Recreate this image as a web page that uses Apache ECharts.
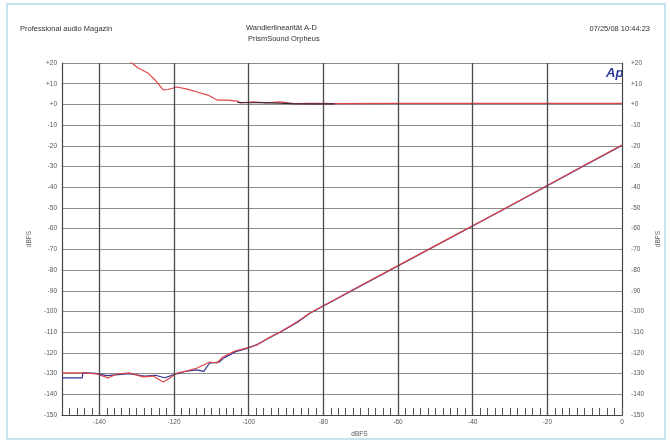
<!DOCTYPE html>
<html>
<head>
<meta charset="utf-8">
<script src="https://cdn.jsdelivr.net/npm/echarts@6/dist/echarts.min.js"></script>
<style>
  html, body { margin: 0; padding: 0; background: #fff; }
  #linChart { width: 670px; height: 443px; }
</style>
</head>
<body>
<div id="linChart"></div>
<script>
// x: Eingangspegel (dBFS), y: dBFS
const xLabelValues = [-140, -120, -100, -80, -60, -40, -20, 0];
const yMin = -150, yMax = 20;

// Ausgangspegel, Kanal A (blau) / Kanal B (rot)
const levelA = [[-150,-132.1],[-144.6,-132.1],[-144.4,-129.5],[-141,-129.9],[-138,-131.0],[-135,-130.5],[-132,-130.0],
  [-128,-131.2],[-125,-130.8],[-122.5,-132.0],[-120,-130.5],[-117,-129.0],[-114,-128.2],[-112,-128.9],[-110.5,-125.0],
  [-108,-124.5],[-106.5,-122.3],[-103.5,-119.4],[-100.4,-117.8],[-97.8,-116.0],[-94.3,-112.6],[-91.6,-110.0],
  [-87,-105.3],[-83.6,-100.9],[-70,-87.7],[-50,-68.4],[-30,-49.1],[-10,-29.5],[0,-19.8]];
const levelB = [[-150,-129.7],[-144.4,-129.7],[-140.6,-130.2],[-137.7,-132.1],[-135.3,-130.2],[-131.8,-129.7],
  [-128.3,-131.6],[-125.6,-131.2],[-122.9,-134.1],[-121.1,-132.1],[-119.2,-129.7],[-116.5,-128.7],[-113.8,-127.3],
  [-110.4,-124.4],[-108.5,-124.9],[-106.9,-122.0],[-103.7,-119.1],[-100.4,-117.6],[-97.8,-116.2],[-94.3,-112.3],
  [-91.6,-109.9],[-87.1,-105.1],[-83.6,-100.7],[-70,-87.5],[-50,-68.2],[-30,-48.9],[-10,-29.3],[0,-19.6]];

// Abweichung, Kanal A / Kanal B
const devA = [[-103,1.0],[-100,0.8],[-96,0.9],[-92,0.6],[-88,0.4],[-83,0.3],[-77,0.3]];
const devB = [[-133.5,23],[-131.3,20],[-129.6,17.6],[-127.0,15.2],[-125.1,11.8],[-122.9,7.0],[-121.6,7.2],
  [-119.2,8.4],[-116.5,7.4],[-113.8,6.0],[-110.9,4.5],[-108.5,2.1],[-105.8,2.1],[-103.1,1.6],[-102.3,0.7],
  [-98.8,1.2],[-95.1,0.7],[-91.6,1.2],[-88.1,0.4],[-82.8,0.5],[-77.4,0.4],[-60,0.5],[-40,0.5],[-20,0.5],[0,0.5]];

const red = '#e0454a';
const blue = '#34348f';
const font = 'Liberation Sans, Arial, sans-serif';

function yFmt(v) {
  return v >= 0 ? '+' + v : String(v);
}

const chart = echarts.init(document.getElementById('linChart'));

const option = {
  backgroundColor: '#fff',
  animation: false,
  grid: { left: 62, right: 48, top: 63, bottom: 28 },
  graphic: [
    { type: 'rect', shape: { x: 7, y: 4, width: 658, height: 435 },
      style: { fill: 'none', stroke: '#c6e3ef', lineWidth: 2 }, z: -10 },
    { type: 'text', left: 20, top: 25, style: { text: 'Professional audio Magazin', fontSize: 7.5, fill: '#333', fontFamily: font } },
    { type: 'text', left: 246, top: 24, style: { text: 'Wandlerlinearität A-D', fontSize: 7.5, fill: '#333', fontFamily: font } },
    { type: 'text', left: 248, top: 35, style: { text: 'PrismSound Orpheus', fontSize: 7.5, fill: '#333', fontFamily: font } },
    { type: 'text', right: 20, top: 25, style: { text: '07/25/08 10:44:23', fontSize: 7.5, fill: '#333', fontFamily: font } },
    { type: 'text', left: 606, top: 67, style: { text: 'Ap', fontSize: 13, fontWeight: 'bold', fontStyle: 'italic', fill: '#2b3a9c', fontFamily: font } }
  ],
  xAxis: {
    type: 'value', min: -150, max: 0, interval: 2,
    name: 'dBFS', nameLocation: 'middle', nameGap: 14,
    nameTextStyle: { fontSize: 6.5, color: '#555', fontFamily: font, padding: [0, 0, 0, 35] },
    axisLine: { onZero: false, lineStyle: { color: '#444', width: 1.2 } },
    axisTick: { inside: true, length: 7, lineStyle: { color: '#555' } },
    axisLabel: {
      margin: 4, fontSize: 6.5, color: '#555', fontFamily: font,
      formatter: v => (xLabelValues.indexOf(v) >= 0 ? String(v) : '')
    },
    splitLine: { show: false }
  },
  yAxis: [
    {
      type: 'value', min: yMin, max: yMax, interval: 10,
      name: 'dBFS', nameLocation: 'middle', nameGap: 28, nameRotate: 90,
      nameTextStyle: { fontSize: 6.5, color: '#666', fontFamily: font },
      axisLine: { show: true, onZero: false, lineStyle: { color: '#444', width: 1.2 } },
      axisTick: { show: false },
      axisLabel: { margin: 5, fontSize: 6.5, color: '#555', fontFamily: font, formatter: yFmt },
      splitLine: { lineStyle: { color: '#8c8c8c', width: 1 } }
    },
    {
      type: 'value', min: yMin, max: yMax, interval: 10, position: 'right',
      name: 'dBFS', nameLocation: 'middle', nameGap: 30, nameRotate: 90,
      nameTextStyle: { fontSize: 6.5, color: '#666', fontFamily: font },
      axisLine: { show: true, onZero: false, lineStyle: { color: '#444', width: 1.2 } },
      axisTick: { show: false },
      axisLabel: { margin: 9, fontSize: 6.5, color: '#555', fontFamily: font, formatter: yFmt },
      splitLine: { show: false }
    }
  ],
  series: [
    {
      name: 'grid', type: 'line', data: [], silent: true,
      markLine: {
        symbol: 'none', silent: true, label: { show: false },
        lineStyle: { type: 'solid', color: '#4a4a4a', width: 1.3 },
        data: xLabelValues.filter(v => v > -150 && v < 0).map(v => ({ xAxis: v }))
      }
    },
    { name: 'Pegel A', type: 'line', data: levelA, showSymbol: false, lineStyle: { color: blue, width: 1.2 }, z: 3 },
    { name: 'Pegel B', type: 'line', data: levelB, showSymbol: false, lineStyle: { color: red, width: 1.2 }, z: 4 },
    { name: 'Abw. B', type: 'line', data: devB, showSymbol: false, lineStyle: { color: red, width: 1.2 }, z: 4 },
    { name: 'Abw. A', type: 'line', data: devA, showSymbol: false, lineStyle: { color: '#3a2a3a', width: 1.2 }, z: 5 }
  ]
};

chart.setOption(option);
</script>
</body>
</html>
